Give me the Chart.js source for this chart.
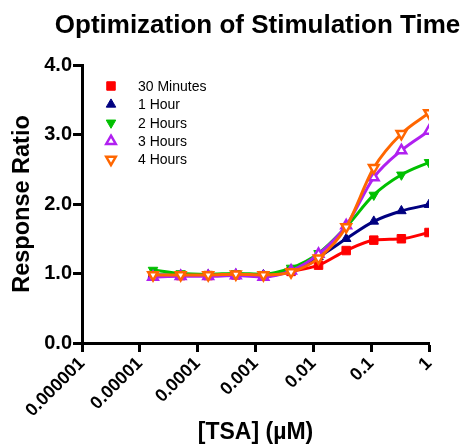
<!DOCTYPE html>
<html>
<head>
<meta charset="utf-8">
<script src="https://cdn.jsdelivr.net/npm/chart.js@4/dist/chart.umd.min.js"></script>
<style>
  body { margin: 0; background: #fff; }
  canvas { display: block; }
</style>
</head>
<body>
<canvas id="chart" width="465" height="446"></canvas>
<script>
// TSA concentrations (uM), 3-fold dilutions
const conc = [0.0000169, 0.0000508, 0.000152, 0.000457, 0.00137, 0.00412, 0.0123, 0.037, 0.111, 0.333, 1];
const seriesNames = ["30 Minutes", "1 Hour", "2 Hours", "3 Hours", "4 Hours"];
const min30 = [0.97, 0.97, 0.97, 0.98, 0.96, 1.03, 1.12, 1.33, 1.48, 1.50, 1.59];
const hour1 = [0.98, 0.98, 0.98, 0.99, 0.98, 1.05, 1.24, 1.50, 1.75, 1.90, 1.99];
const hour2 = [1.05, 1.00, 0.99, 1.00, 0.99, 1.08, 1.29, 1.67, 2.13, 2.42, 2.60];
const hour3 = [0.95, 0.96, 0.96, 0.97, 0.95, 1.04, 1.28, 1.69, 2.38, 2.77, 3.05];
const hour4 = [0.98, 0.98, 0.98, 0.99, 0.98, 1.02, 1.22, 1.67, 2.52, 3.01, 3.31];
const xTicks = [0.000001, 0.00001, 0.0001, 0.001, 0.01, 0.1, 1];
const xTickLabels = ["0.000001", "0.00001", "0.0001", "0.001", "0.01", "0.1", "1"];
const yTickLabels = ["0.0", "1.0", "2.0", "3.0", "4.0"];

const colors = ["#ff0000", "#000080", "#00c000", "#b020f0", "#ff6600"];
const markers = [
  { style: "rect", rotation: 0, open: false },
  { style: "triangle", rotation: 0, open: false },
  { style: "triangle", rotation: 180, open: false },
  { style: "triangle", rotation: 0, open: true },
  { style: "triangle", rotation: 180, open: true }
];
const allSeries = [min30, hour1, hour2, hour3, hour4];

const datasets = allSeries.map((vals, i) => ({
  label: seriesNames[i],
  data: vals.map((v, j) => ({ x: conc[j], y: v })),
  borderColor: colors[i],
  borderWidth: 3,
  pointStyle: markers[i].style,
  rotation: markers[i].rotation,
  pointRadius: markers[i].style === "rect" ? 6 : 5.5,
  pointBackgroundColor: markers[i].open ? "#ffffff" : colors[i],
  pointBorderColor: colors[i],
  pointBorderWidth: markers[i].open ? 2.5 : 1,
  cubicInterpolationMode: "monotone",
  showLine: true,
  order: 5 - i
}));

function drawMarker(ctx, m, color, x, y, r) {
  ctx.save();
  ctx.fillStyle = m.open ? "#ffffff" : color;
  ctx.strokeStyle = color;
  ctx.lineWidth = m.open ? 2.5 : 1;
  ctx.beginPath();
  if (m.style === "rect") {
    const s = r * Math.SQRT1_2;
    ctx.rect(x - s, y - s, 2 * s, 2 * s);
  } else {
    const rad = m.rotation * Math.PI / 180;
    for (let k = 0; k < 3; k++) {
      const a = rad + k * 2 * Math.PI / 3;
      const px = x + Math.sin(a) * r, py = y - Math.cos(a) * r;
      if (k === 0) ctx.moveTo(px, py); else ctx.lineTo(px, py);
    }
    ctx.closePath();
  }
  ctx.fill();
  ctx.stroke();
  ctx.restore();
}

const extras = {
  id: "extras",
  afterDraw(chart) {
    const ctx = chart.ctx;
    const area = chart.chartArea;
    ctx.save();
    ctx.fillStyle = "#000";
    ctx.textAlign = "center";
    ctx.textBaseline = "alphabetic";
    ctx.font = "bold 26px 'Liberation Sans', Arial, sans-serif";
    ctx.fillText("Optimization of Stimulation Time", (area.left + area.right) / 2 + 2, 33);
    // legend
    ctx.font = "14px 'Liberation Sans', Arial, sans-serif";
    ctx.textAlign = "left";
    ctx.textBaseline = "middle";
    seriesNames.forEach((name, i) => {
      const y = 86 + i * 18.4;
      drawMarker(ctx, markers[i], colors[i], 111, y, markers[i].style === "rect" ? 6 : 5.5);
      ctx.fillStyle = "#000";
      ctx.fillText(name, 138, y + 1);
    });
    ctx.restore();
  }
};

new Chart(document.getElementById("chart"), {
  type: "scatter",
  data: { datasets },
  plugins: [extras],
  options: {
    responsive: false,
    animation: false,
    devicePixelRatio: 1,
    layout: { padding: { top: 65, right: 36, bottom: 0, left: 0 } },
    plugins: { legend: { display: false }, tooltip: { enabled: false } },
    scales: {
      x: {
        type: "logarithmic",
        min: 0.000001,
        max: 1,
        afterBuildTicks: s => { s.ticks = xTicks.map(v => ({ value: v })); },
        afterFit: s => { s.height = 103; },
        border: { display: true, color: "#000", width: 3 },
        grid: { drawOnChartArea: false, drawTicks: true, tickLength: 9, tickWidth: 3, tickColor: "#000" },
        ticks: {
          autoSkip: false,
          minRotation: 45,
          maxRotation: 45,
          padding: 1,
          color: "#000",
          font: { family: "'Liberation Sans', Arial, sans-serif", size: 18, weight: "bold" },
          callback: (v, i) => xTickLabels[i]
        },
        title: {
          display: true,
          text: "[TSA] (\u00b5M)",
          color: "#000",
          padding: { top: 0, bottom: 0 },
          font: { family: "'Liberation Sans', Arial, sans-serif", size: 23, weight: "bold" }
        }
      },
      y: {
        min: 0,
        max: 4,
        afterFit: s => { s.width = 82; },
        border: { display: true, color: "#000", width: 3 },
        grid: { drawOnChartArea: false, drawTicks: true, tickLength: 9, tickWidth: 3, tickColor: "#000" },
        ticks: {
          stepSize: 1,
          padding: 1,
          color: "#000",
          font: { family: "'Liberation Sans', Arial, sans-serif", size: 20, weight: "bold" },
          callback: (v, i) => yTickLabels[i]
        },
        title: {
          display: true,
          text: "Response Ratio",
          color: "#000",
          padding: { top: 8, bottom: 0 },
          font: { family: "'Liberation Sans', Arial, sans-serif", size: 23.5, weight: "bold" }
        }
      }
    }
  }
});
</script>
</body>
</html>
